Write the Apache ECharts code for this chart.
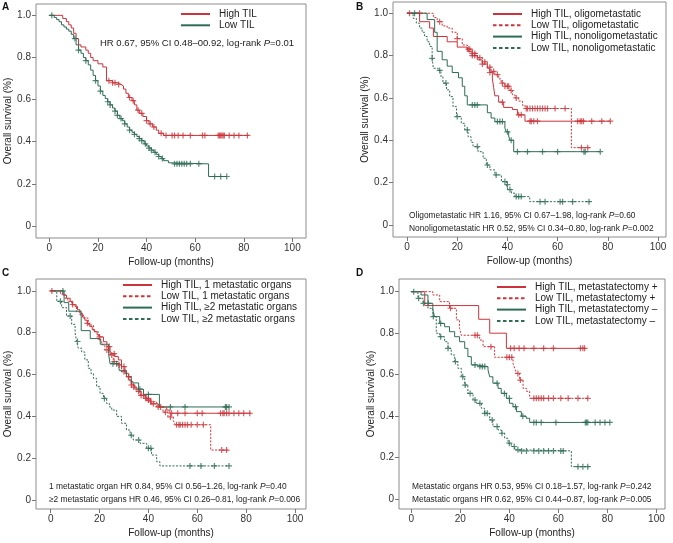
<!DOCTYPE html>
<html>
<head>
<meta charset="utf-8">
<title>Overall survival by TIL</title>
<script src="https://cdn.jsdelivr.net/npm/echarts@6/dist/echarts.min.js"></script>
<style>
  html, body { margin: 0; padding: 0; background: #fff; }
  #chart { width: 673px; height: 543px; }
</style>
</head>
<body>
<div id="chart"></div>
<script>
// tick labels
const xTicks = [0, 20, 40, 60, 80, 100];
const yTicks = [0, 0.2, 0.4, 0.6, 0.8, 1.0];

// ---- A: steps are [month, survival], then last follow-up and censored months
const aHigh = [[0, 1], [5.5, 0.985], [7, 0.97], [8, 0.955], [9, 0.94], [10, 0.915], [11, 0.89], [12, 0.86], [13, 0.85], [15, 0.835], [16, 0.82], [17, 0.8], [18, 0.785], [20, 0.77], [22, 0.755], [23.5, 0.69], [26, 0.68], [28, 0.672], [29.5, 0.665], [30.5, 0.65], [31.5, 0.63], [32.5, 0.61], [34, 0.595], [35, 0.575], [36, 0.55], [37, 0.535], [38.5, 0.52], [40, 0.5], [41, 0.485], [42.5, 0.47], [44, 0.455], [45, 0.44], [47, 0.43]];
const aHighEnd = 82;
const aHighCens = [24.5, 26, 27, 28.5, 33, 34.5, 36.5, 38, 40, 41.5, 43, 46, 48, 50.5, 51.5, 53, 55, 58, 63, 64, 69.5, 70, 70.5, 71, 71.5, 72, 74, 76, 78, 81.5];
const aLow = [[0, 1], [2, 0.99], [3, 0.98], [4, 0.97], [5, 0.955], [6, 0.945], [7, 0.935], [8, 0.925], [9, 0.91], [10, 0.89], [11, 0.86], [12, 0.835], [13, 0.82], [14, 0.8], [15, 0.785], [16, 0.765], [17, 0.74], [18, 0.715], [19, 0.69], [20, 0.665], [21, 0.64], [22, 0.62], [23, 0.605], [24, 0.59], [25, 0.575], [26, 0.56], [27, 0.545], [28, 0.525], [29, 0.51], [30, 0.5], [31, 0.485], [32, 0.47], [33, 0.455], [34, 0.445], [35, 0.435], [36, 0.425], [37, 0.415], [38, 0.405], [39, 0.39], [40, 0.38], [41, 0.37], [42, 0.36], [43, 0.35], [44, 0.34], [45, 0.33], [46, 0.32], [47, 0.31], [49, 0.3], [50.5, 0.295], [65.5, 0.235]];
const aLowEnd = 73;
const aLowCens = [1, 10.5, 12, 15, 19, 21, 24, 25, 27, 28, 29.5, 31, 33, 35, 37, 38, 39.5, 41, 42, 43.5, 45, 46.5, 51.5, 52.5, 53.5, 54.5, 55.5, 56.5, 58, 61.5, 68, 70.5, 73];

// ---- B
const bHighOligo = [[0, 1], [5, 0.96], [9, 0.93], [10.5, 0.89], [16, 0.865], [20, 0.84], [24, 0.82], [26, 0.8], [28, 0.78], [30, 0.76], [32, 0.74], [33, 0.72], [34, 0.69], [34.5, 0.65], [35, 0.61], [36.5, 0.58], [38.5, 0.555], [42, 0.545], [44, 0.52], [47, 0.49]];
const bHighOligoEnd = 81;
const bHighOligoCens = [1, 26, 27, 30, 33, 38, 44.5, 45.5, 49, 49.5, 50.5, 52, 68, 69, 69.6, 70.3, 73.6, 77.6, 81];
const bLowOligo = [[0, 1], [10.5, 0.98], [12, 0.96], [14, 0.94], [16, 0.93], [18, 0.91], [20, 0.88], [22, 0.85], [24, 0.83], [26, 0.81], [28, 0.79], [30, 0.77], [32, 0.745], [33.5, 0.725], [35, 0.71], [36.5, 0.69], [37.5, 0.67], [39, 0.655], [41, 0.635], [42, 0.615], [43, 0.6], [44.5, 0.585], [46, 0.565], [47, 0.55], [65.5, 0.365]];
const bLowOligoEnd = 73;
const bLowOligoCens = [5, 13, 20, 24.5, 25, 26, 27, 29, 31, 33, 34.5, 36, 38, 39, 40, 40.5, 41.5, 43.5, 47.5, 48, 49, 50, 51, 52, 53, 54, 55, 56, 59, 63, 69.5, 72];
const bHighNon = [[0, 1], [8, 0.97], [11, 0.91], [12, 0.82], [14, 0.78], [16, 0.75], [18, 0.72], [20.5, 0.695], [22, 0.655], [23, 0.61], [24, 0.567], [32, 0.53], [33.5, 0.505], [35, 0.488], [39, 0.457], [39.5, 0.44], [40.5, 0.42], [41, 0.4], [42.5, 0.346]];
const bHighNonEnd = 77;
const bHighNonCens = [3, 26, 27, 28, 36, 37, 38, 40, 41.5, 44, 48, 54, 60, 70.5, 71, 77];
const bLowNon = [[0, 1], [2.4, 0.976], [3.7, 0.953], [5, 0.93], [6, 0.91], [7, 0.89], [8, 0.865], [9, 0.843], [10, 0.787], [10.5, 0.74], [12.4, 0.73], [13.5, 0.7], [14.3, 0.67], [15.7, 0.638], [17, 0.606], [18.3, 0.559], [19.7, 0.512], [21.6, 0.48], [23, 0.449], [24.3, 0.417], [25.5, 0.39], [26.3, 0.37], [28.3, 0.346], [30.3, 0.315], [31.6, 0.283], [33, 0.26], [35, 0.236], [37.6, 0.205], [39.6, 0.19], [40.2, 0.167], [41.6, 0.15], [43, 0.134], [48.9, 0.11]];
const bLowNonEnd = 73;
const bLowNonCens = [10, 13, 15.5, 20, 24, 28, 32, 35.5, 39, 40, 41, 43.5, 44.5, 45.5, 53, 55, 61, 62, 66, 72.5];

// ---- C
const cHigh1 = [[0, 1], [5, 0.98], [6.5, 0.965], [8, 0.95], [9, 0.935], [10, 0.925], [11, 0.91], [12, 0.893], [13, 0.875], [14, 0.86], [15, 0.845], [16, 0.83], [17, 0.815], [18, 0.805], [19, 0.79], [20, 0.78], [21.6, 0.757], [23, 0.734], [24.3, 0.7], [26.3, 0.686], [27.7, 0.67], [29, 0.638], [30.4, 0.606], [31.8, 0.574], [33, 0.55], [34.5, 0.53], [35.9, 0.52], [37, 0.5], [39, 0.478], [41, 0.46], [44, 0.445], [47.5, 0.43], [48.8, 0.415]];
const cHigh1End = 82;
const cHigh1Cens = [0.5, 9, 15, 20, 24, 26, 30, 33, 36, 38, 40, 42, 45, 49.5, 52, 55, 60, 62, 69.5, 70.5, 71, 72, 73, 75, 77, 79, 81.5];
const cLow1 = [[0, 1], [4, 0.985], [5.9, 0.965], [7, 0.95], [8.6, 0.933], [10.6, 0.9], [12, 0.885], [13.4, 0.87], [15.4, 0.837], [17.5, 0.805], [19.5, 0.765], [20.9, 0.742], [22.2, 0.718], [24.3, 0.694], [25.6, 0.662], [27.7, 0.646], [29, 0.614], [31, 0.59], [32.5, 0.566], [33.8, 0.54], [35.2, 0.517], [36.6, 0.5], [38.6, 0.486], [40.7, 0.47], [43.4, 0.445], [46, 0.42], [48, 0.397], [50.2, 0.38], [51, 0.36], [65.5, 0.239]];
const cLow1End = 73;
const cLow1Cens = [23, 25, 26, 28, 30, 32, 34, 37, 39, 40, 41, 44, 47, 49, 51.5, 52.5, 53, 54, 55, 56, 57.5, 60, 62.5, 70, 72];
const cHigh2 = [[0, 1], [5.5, 0.944], [7.4, 0.903], [12.5, 0.81], [16.2, 0.772], [20.3, 0.745], [23.7, 0.7], [24.3, 0.652], [28, 0.62], [31, 0.59], [33, 0.56], [36, 0.53], [38, 0.505], [44.5, 0.445]];
const cHigh2End = 73;
const cHigh2Cens = [5, 25.5, 27, 36.5, 40, 49, 55, 71.5, 72, 73];
const cLow2 = [[0, 1], [2.5, 0.95], [4.5, 0.92], [6.5, 0.88], [8.6, 0.84], [10, 0.8], [10.6, 0.758], [11.3, 0.726], [12.7, 0.708], [14, 0.67], [15.4, 0.63], [16.5, 0.605], [17.5, 0.582], [18.8, 0.542], [20.2, 0.51], [21.6, 0.486], [22.9, 0.462], [24, 0.445], [25, 0.43], [27, 0.4], [29, 0.367], [31, 0.335], [32.5, 0.31], [33.8, 0.287], [36.6, 0.271], [39.3, 0.247], [41.3, 0.215], [43.4, 0.183], [44.7, 0.163]];
const cLow2End = 73;
const cLow2Cens = [4, 8, 11, 22, 33, 36, 40, 41, 57, 61.5, 67, 73];

// ---- D
const dHighPlus = [[0, 1], [5.5, 0.933], [27.5, 0.867], [32, 0.8], [38.8, 0.727]];
const dHighPlusEnd = 70.7;
const dHighPlusCens = [40.5, 42, 44, 46, 50, 54, 58, 69, 70, 70.7];
const dLowPlus = [[0, 1], [8.8, 0.984], [11.6, 0.952], [15.6, 0.92], [18.4, 0.864], [19.7, 0.823], [20.4, 0.79], [27.9, 0.767], [29.3, 0.735], [34, 0.684], [41.5, 0.655], [42.2, 0.63], [42.9, 0.606], [44.2, 0.574], [45.6, 0.534], [47, 0.52], [48.3, 0.486]];
const dLowPlusEnd = 72.5;
const dLowPlusCens = [16, 26, 27, 32.5, 39, 40, 41, 43.5, 44.5, 50, 51, 52, 53, 54, 56, 58, 61, 64, 68, 72];
const dHighMinus = [[0, 1], [4, 0.984], [6.8, 0.944], [8.8, 0.912], [9.5, 0.88], [11.6, 0.847], [13.6, 0.831], [15.6, 0.807], [17.7, 0.783], [19.7, 0.759], [21.8, 0.727], [23.1, 0.687], [24.5, 0.647], [26.5, 0.639], [31.3, 0.623], [32, 0.59], [33.3, 0.559], [35.4, 0.534], [36.7, 0.51], [38.8, 0.486], [40.1, 0.462], [41.5, 0.446], [42.9, 0.422], [44.9, 0.4], [46.9, 0.39], [48.3, 0.37]];
const dHighMinusEnd = 81;
const dHighMinusCens = [7, 12, 26, 28, 29, 30, 35, 38, 40, 42.5, 45.5, 50, 51, 53, 59, 71, 71.5, 72, 75, 77, 79, 81];
const dLowMinus = [[0, 1], [2.7, 0.968], [4.8, 0.944], [6.8, 0.92], [8.8, 0.88], [10.2, 0.8], [11.6, 0.783], [13.6, 0.759], [15, 0.727], [16.3, 0.695], [17.7, 0.663], [19, 0.631], [20.4, 0.59], [21.8, 0.55], [23.1, 0.51], [25.2, 0.478], [26.5, 0.462], [28.6, 0.438], [29.9, 0.414], [32, 0.382], [33.3, 0.35], [35.4, 0.334], [36.7, 0.318], [38.1, 0.294], [39.5, 0.27], [40.8, 0.254], [42.2, 0.238], [44.2, 0.233], [65.3, 0.157]];
const dLowMinusEnd = 72.8;
const dLowMinusCens = [1, 3, 5, 9, 12, 15, 18, 21, 22, 24, 26, 28, 30, 31, 33, 35, 37, 40, 42, 43.5, 45, 47, 50, 52, 54, 56, 58, 61, 62, 68, 70, 72];

const RED = "#cc343b";
const GREEN = "#2e6d55";
const FONT = "'Liberation Sans', Arial, sans-serif";
const PLUS = "path://M4,0h2v4h4v2h-4v4h-2v-4h-4v-2h4z";

// pixel layout of the 4 panels; axis min/max make the box overhang 0..100 / 0..1
const panels = [
  { left: 36, top: 4, width: 270, height: 234, xMin: -5.5, xMax: 105.6, yMin: -0.057, yMax: 1.054 },
  { left: 393, top: 2, width: 273, height: 235, xMin: -5.6, xMax: 103.2, yMin: -0.057, yMax: 1.053 },
  { left: 36, top: 279, width: 270, height: 230, xMin: -6.0, xMax: 104.5, yMin: -0.043, yMax: 1.057 },
  { left: 399, top: 279, width: 266, height: 230, xMin: -5.0, xMax: 103.5, yMin: -0.047, yMax: 1.061 },
];

function survAt(steps, t) {
  let s = 1;
  for (const [x, y] of steps) {
    if (x <= t) s = y;
  }
  return s;
}

const series = [];
const dashedNames = [];
function addCurve(idx, name, steps, end, cens, color, dashed) {
  const last = steps[steps.length - 1][1];
  if (dashed) dashedNames.push(name);
  series.push({
    name: name,
    type: "line",
    xAxisIndex: idx,
    yAxisIndex: idx,
    step: "end",
    symbol: "none",
    data: steps.concat([[end, last]]),
    lineStyle: { color: color, width: 1, type: dashed ? [2, 1.5] : "solid" },
    itemStyle: { color: color },
    z: 3,
    animation: false,
  });
  series.push({
    name: name + " censored",
    type: "scatter",
    xAxisIndex: idx,
    yAxisIndex: idx,
    symbol: PLUS,
    symbolSize: 6,
    itemStyle: { color: color },
    data: cens.map((t) => [t, survAt(steps, t)]),
    z: 4,
    animation: false,
  });
}

addCurve(0, "High TIL", aHigh, aHighEnd, aHighCens, RED, false);
addCurve(0, "Low TIL", aLow, aLowEnd, aLowCens, GREEN, false);
addCurve(1, "High TIL, oligometastatic", bHighOligo, bHighOligoEnd, bHighOligoCens, RED, false);
addCurve(1, "Low TIL, oligometastatic", bLowOligo, bLowOligoEnd, bLowOligoCens, RED, true);
addCurve(1, "High TIL, nonoligometastatic", bHighNon, bHighNonEnd, bHighNonCens, GREEN, false);
addCurve(1, "Low TIL, nonoligometastatic", bLowNon, bLowNonEnd, bLowNonCens, GREEN, true);
addCurve(2, "High TIL, 1 metastatic organs", cHigh1, cHigh1End, cHigh1Cens, RED, false);
addCurve(2, "Low TIL, 1 metastatic organs", cLow1, cLow1End, cLow1Cens, RED, true);
addCurve(2, "High TIL, ≥2 metastatic organs", cHigh2, cHigh2End, cHigh2Cens, GREEN, false);
addCurve(2, "Low TIL, ≥2 metastatic organs", cLow2, cLow2End, cLow2Cens, GREEN, true);
addCurve(3, "High TIL, metastatectomy +", dHighPlus, dHighPlusEnd, dHighPlusCens, RED, false);
addCurve(3, "Low TIL, metastatectomy +", dLowPlus, dLowPlusEnd, dLowPlusCens, RED, true);
addCurve(3, "High TIL, metastatectomy –", dHighMinus, dHighMinusEnd, dHighMinusCens, GREEN, false);
addCurve(3, "Low TIL, metastatectomy –", dLowMinus, dLowMinusEnd, dLowMinusCens, GREEN, true);

const legendNames = [
  ["High TIL", "Low TIL"],
  ["High TIL, oligometastatic", "Low TIL, oligometastatic", "High TIL, nonoligometastatic", "Low TIL, nonoligometastatic"],
  ["High TIL, 1 metastatic organs", "Low TIL, 1 metastatic organs", "High TIL, ≥2 metastatic organs", "Low TIL, ≥2 metastatic organs"],
  ["High TIL, metastatectomy +", "Low TIL, metastatectomy +", "High TIL, metastatectomy –", "Low TIL, metastatectomy –"],
];
const legendPos = [
  { left: 180, top: 9 },
  { left: 492, top: 9 },
  { left: 122, top: 280 },
  { left: 496, top: 282 },
];

// stats text under/over each panel
const notes = [
  { x: 100, y: 43, size: 9.5, lines: ["HR 0.67, 95% CI 0.48–00.92, log-rank {i|P}=0.01"] },
  { x: 409, y: 216, size: 8.4, lines: ["Oligometastatic HR 1.16, 95% CI 0.67–1.98, log-rank {i|P}=0.60", "Nonoligometastatic HR 0.52, 95% CI 0.34–0.80, log-rank {i|P}=0.002"] },
  { x: 49, y: 487, size: 8.4, lines: ["1 metastatic organ HR 0.84, 95% CI 0.56–1.26, log-rank {i|P}=0.40", "≥2 metastatic organs HR 0.46, 95% CI 0.26–0.81, log-rank {i|P}=0.006"] },
  { x: 412, y: 487, size: 8.4, lines: ["Metastatic organs HR 0.53, 95% CI 0.18–1.57, log-rank {i|P}=0.242", "Metastatic organs HR 0.62, 95% CI 0.44–0.87, log-rank {i|P}=0.005"] },
];
const letters = [
  { t: "A", x: 2, y: 2 },
  { t: "B", x: 356, y: 2 },
  { t: "C", x: 2, y: 268 },
  { t: "D", x: 356, y: 268 },
];

const graphic = [];
notes.forEach((n) => {
  n.lines.forEach((line, i) => {
    graphic.push({
      type: "text",
      x: n.x,
      y: n.y + i * 12.5,
      style: {
        text: line,
        fill: "#222",
        font: n.size + "px " + FONT,
        verticalAlign: "middle",
        rich: { i: { fontStyle: "italic", fontSize: n.size, fontFamily: FONT, fill: "#222" } },
      },
    });
  });
});
letters.forEach((l) => {
  graphic.push({
    type: "text",
    x: l.x,
    y: l.y,
    style: { text: l.t, fill: "#111", font: "bold 10px " + FONT },
  });
});

const chart = echarts.init(document.getElementById("chart"));
chart.setOption({
  backgroundColor: "#fff",
  animation: false,
  textStyle: { fontFamily: FONT },
  grid: panels.map((p) => ({
    left: p.left,
    top: p.top,
    width: p.width,
    height: p.height,
    show: true,
    borderColor: "#8c8c8c",
    borderWidth: 1,
    containLabel: false,
  })),
  xAxis: panels.map((p, i) => ({
    type: "value",
    gridIndex: i,
    min: p.xMin,
    max: p.xMax,
    name: "Follow-up (months)",
    nameLocation: "middle",
    nameGap: 19,
    nameTextStyle: { fontSize: 10, color: "#222" },
    axisLine: { show: false, onZero: false },
    axisTick: { show: true, length: 4, customValues: xTicks, lineStyle: { color: "#777" } },
    axisLabel: { customValues: xTicks, fontSize: 10, color: "#333", margin: 5 },
    splitLine: { show: false },
  })),
  yAxis: panels.map((p, i) => ({
    type: "value",
    gridIndex: i,
    min: p.yMin,
    max: p.yMax,
    name: "Overall survival (%)",
    nameLocation: "middle",
    nameGap: 23,
    nameTextStyle: { fontSize: 10, color: "#222" },
    axisLine: { show: false, onZero: false },
    axisTick: { show: true, length: 4, customValues: yTicks, lineStyle: { color: "#777" } },
    axisLabel: {
      customValues: yTicks,
      fontSize: 10,
      color: "#333",
      margin: 5,
      formatter: (v) => (v === 0 ? "0" : v.toFixed(1)),
    },
    splitLine: { show: false },
  })),
  legend: legendNames.map((names, i) => ({
    data: names.map((n) =>
      dashedNames.includes(n) ? { name: n, lineStyle: { type: [3.5, 2.5], width: 2 } } : { name: n }
    ),
    orient: "vertical",
    left: legendPos[i].left,
    top: legendPos[i].top,
    padding: 0,
    itemWidth: 29,
    itemHeight: 7,
    itemGap: 1.3,
    selectedMode: false,
    itemStyle: { opacity: 0 },
    lineStyle: { width: 2 },
    textStyle: { fontSize: 10, color: "#222", padding: [0, 0, 0, 4] },
  })),
  graphic: graphic,
  series: series,
});
</script>
</body>
</html>
